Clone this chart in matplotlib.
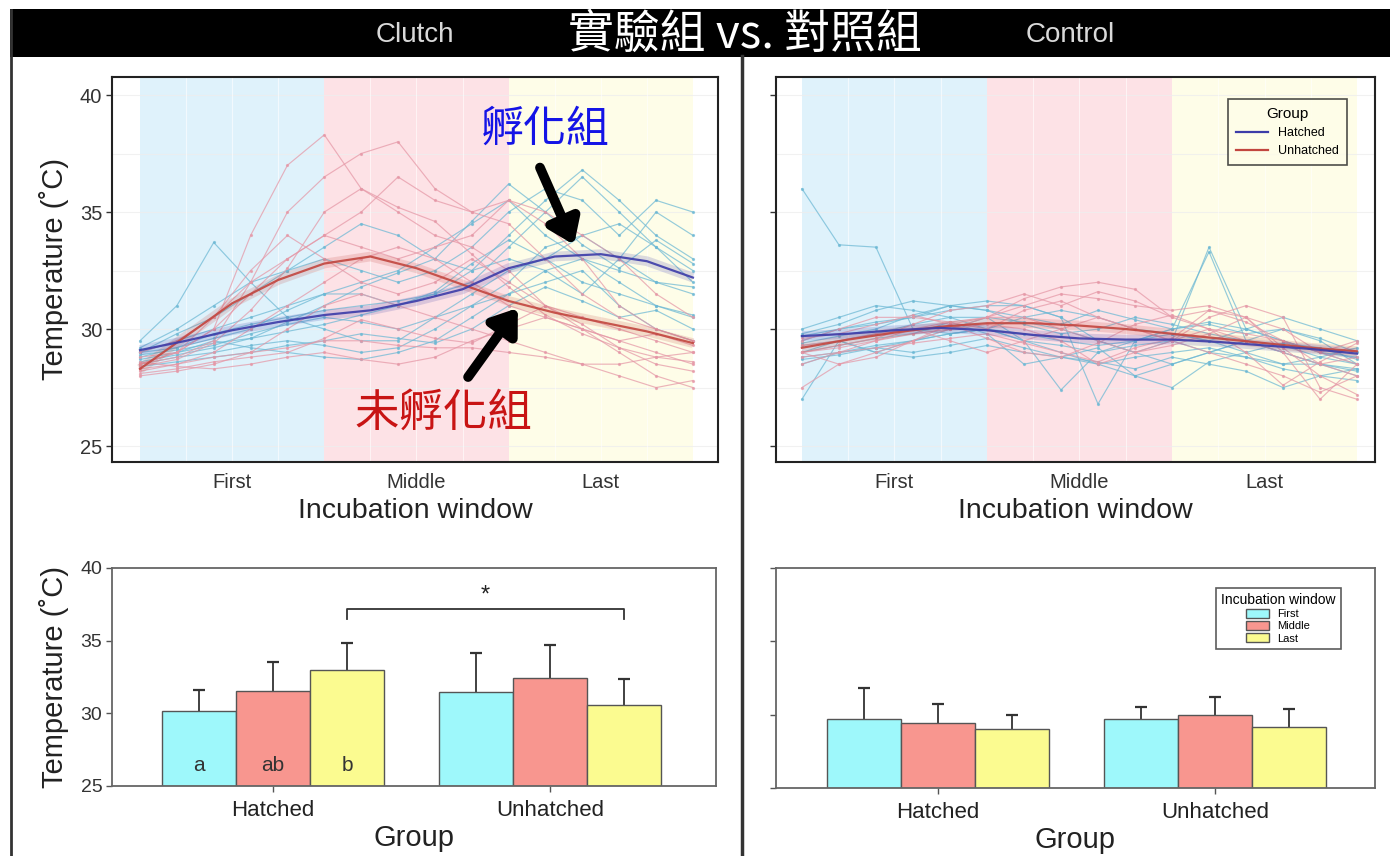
import numpy as np
import matplotlib
matplotlib.use("Agg")
import matplotlib.pyplot as plt
from matplotlib.patches import Rectangle, Patch
from matplotlib.lines import Line2D

plt.rcParams['font.family'] = ['Liberation Sans', 'DejaVu Sans']

# ---------------- data ----------------
windows = ["First", "Middle", "Last"]
groups = ["Hatched", "Unhatched"]

# x grid of individual temperature traces (window units: 0-1 First, 1-2 Middle, 2-3 Last)
trace_x = np.linspace(0, 3, 16)
smooth_x = np.linspace(0, 3, 13)

clutch_hatched = [
    [29.5, 31.0, 33.7, 32.0, 30.5, 30.8, 31.0, 31.2, 31.5, 32.0, 33.5, 35.0, 36.5, 35.0, 33.5, 32.5],
    [29.0, 29.5, 30.0, 30.5, 31.0, 31.5, 31.5, 31.0, 31.5, 32.5, 34.0, 35.5, 36.8, 35.5, 34.0, 33.0],
    [28.8, 29.2, 29.8, 30.2, 30.5, 30.0, 29.5, 29.5, 30.5, 31.5, 32.5, 33.0, 34.0, 34.5, 33.5, 32.0],
    [28.5, 28.8, 29.0, 29.3, 29.5, 29.3, 29.0, 29.2, 30.0, 31.0, 32.0, 33.5, 34.0, 33.0, 32.0, 31.5],
    [29.2, 30.0, 31.0, 32.0, 32.5, 33.0, 32.5, 32.0, 32.5, 33.5, 35.0, 36.0, 35.5, 34.0, 35.5, 35.0],
    [28.5, 29.0, 29.5, 29.2, 29.0, 28.8, 28.7, 29.0, 29.5, 30.5, 31.5, 32.0, 32.5, 31.0, 30.0, 29.5],
    [29.0, 29.8, 30.5, 31.5, 32.5, 33.5, 34.5, 34.0, 33.0, 32.5, 33.0, 32.5, 31.5, 33.0, 35.0, 34.0],
    [28.7, 29.0, 29.3, 29.8, 30.2, 30.5, 30.3, 30.0, 30.5, 31.0, 31.5, 32.5, 33.0, 32.0, 31.0, 30.5],
    [29.0, 29.2, 29.6, 30.0, 30.8, 31.5, 32.0, 32.5, 33.5, 34.5, 35.5, 34.0, 33.0, 32.5, 32.0, 31.8],
    [28.4, 28.6, 28.8, 29.0, 29.3, 29.5, 29.8, 29.6, 29.4, 30.0, 31.0, 31.8, 31.2, 30.5, 30.8, 30.0],
    [28.9, 29.1, 29.4, 29.6, 29.9, 30.2, 30.6, 31.0, 31.6, 32.8, 33.8, 33.0, 32.0, 31.5, 31.0, 30.6],
    [28.6, 28.9, 29.2, 29.6, 30.3, 31.0, 31.8, 32.4, 33.0, 34.6, 36.2, 35.0, 33.6, 32.6, 33.8, 32.8],
]
clutch_unhatched = [
    [28.5, 29.0, 30.0, 34.0, 37.0, 38.3, 36.0, 35.0, 34.0, 33.5, 32.5, 31.0, 30.5, 30.0, 29.5, 29.0],
    [28.5, 28.8, 29.5, 32.0, 35.0, 36.5, 37.5, 38.0, 36.0, 35.0, 34.5, 33.0, 31.5, 30.5, 30.0, 29.5],
    [28.8, 29.0, 30.0, 31.5, 33.0, 34.0, 35.0, 36.5, 35.5, 35.0, 35.5, 34.5, 33.0, 31.0, 30.0, 29.5],
    [29.0, 29.5, 30.5, 32.0, 33.0, 34.0, 33.5, 33.0, 33.5, 34.0, 35.5, 35.0, 34.0, 33.0, 31.5, 30.5],
    [28.0, 28.2, 28.5, 29.0, 30.0, 31.0, 31.5, 31.0, 30.5, 30.0, 29.5, 29.0, 28.5, 28.5, 28.8, 29.0],
    [28.3, 28.5, 28.8, 29.0, 29.2, 29.5, 29.5, 29.3, 29.2, 29.2, 29.0, 28.8, 28.5, 28.0, 27.5, 27.8],
    [28.5, 29.0, 30.5, 32.5, 34.0, 33.0, 32.0, 31.5, 32.0, 33.0, 32.0, 31.0, 30.0, 29.5, 29.0, 28.5],
    [28.2, 28.5, 29.0, 30.0, 31.0, 32.0, 33.0, 33.5, 33.0, 32.0, 31.0, 30.5, 30.0, 29.0, 28.0, 27.5],
    [28.6, 28.4, 28.3, 28.5, 28.8, 29.0, 28.7, 28.5, 28.8, 29.5, 30.0, 30.5, 30.0, 29.5, 29.8, 29.3],
    [28.4, 28.7, 29.4, 30.8, 32.6, 35.0, 36.0, 35.2, 34.6, 33.2, 31.8, 30.6, 29.8, 29.2, 28.8, 28.6],
    [28.1, 28.3, 28.6, 28.8, 29.0, 29.6, 30.4, 30.0, 29.6, 29.4, 30.2, 31.0, 30.2, 29.2, 28.5, 28.2],
]
control_hatched = [
    [36.0, 33.6, 33.5, 30.0, 29.8, 30.0, 29.5, 29.3, 29.0, 29.3, 29.5, 29.0, 28.8, 28.5, 28.5, 28.3],
    [29.5, 30.0, 30.3, 30.5, 30.8, 31.0, 31.0, 30.5, 29.5, 29.0, 29.5, 33.5, 30.0, 29.5, 29.0, 28.8],
    [29.0, 29.5, 29.8, 30.2, 30.5, 30.5, 30.3, 30.0, 29.5, 29.0, 28.5, 29.0, 29.5, 30.0, 29.5, 28.5],
    [30.0, 30.5, 31.0, 30.8, 30.5, 30.0, 29.5, 29.0, 28.5, 28.0, 28.5, 29.0, 29.5, 29.0, 28.5, 28.0],
    [28.5, 29.0, 29.3, 29.5, 29.8, 30.0, 30.5, 30.8, 30.5, 30.0, 29.8, 29.5, 30.0, 30.5, 30.0, 29.5],
    [29.3, 29.5, 29.0, 29.5, 30.0, 30.5, 29.5, 27.4, 29.0, 29.5, 29.8, 29.5, 29.0, 28.5, 28.8, 29.2],
    [29.7, 30.0, 30.2, 30.5, 31.0, 31.2, 31.0, 30.5, 26.8, 29.5, 30.0, 33.3, 29.5, 29.0, 28.5, 28.2],
    [28.8, 29.0, 29.2, 29.5, 29.8, 30.0, 29.8, 29.5, 29.3, 29.5, 30.0, 30.3, 30.0, 29.5, 29.0, 28.5],
    [27.0, 29.5, 29.0, 28.8, 29.0, 29.3, 29.0, 28.8, 28.5, 28.8, 29.0, 29.2, 28.8, 28.3, 28.0, 27.8],
    [29.8, 30.2, 30.8, 31.2, 31.0, 30.8, 30.2, 29.8, 30.0, 30.5, 30.2, 29.8, 29.5, 29.3, 28.8, 28.5],
    [28.7, 28.9, 29.2, 29.0, 29.3, 29.6, 29.2, 28.8, 28.6, 28.3, 28.8, 28.5, 28.2, 27.5, 28.0, 28.3],
    [29.4, 29.7, 30.0, 30.6, 31.0, 30.8, 30.5, 30.2, 30.8, 30.4, 30.0, 30.2, 29.8, 30.0, 29.6, 29.0],
    [29.0, 29.3, 29.6, 29.8, 30.3, 29.8, 28.5, 28.8, 29.2, 28.0, 27.5, 28.6, 29.0, 29.4, 29.2, 28.7],
]
control_unhatched = [
    [29.0, 29.2, 29.5, 29.8, 30.0, 30.5, 31.3, 31.8, 32.0, 31.7, 30.5, 30.0, 29.5, 29.0, 28.5, 28.8],
    [29.3, 29.5, 29.8, 30.0, 30.3, 30.5, 31.0, 31.5, 31.3, 31.0, 30.8, 31.0, 30.5, 30.0, 29.0, 28.5],
    [28.5, 29.0, 29.5, 30.0, 29.5, 29.0, 29.5, 30.0, 30.5, 30.0, 29.5, 30.5, 31.0, 30.5, 27.5, 27.0],
    [29.0, 28.5, 28.8, 29.5, 30.2, 30.5, 30.5, 30.0, 29.5, 29.0, 29.3, 29.8, 30.5, 29.0, 27.0, 28.5],
    [29.5, 30.0, 30.5, 30.5, 30.3, 30.0, 30.8, 31.2, 30.5, 30.0, 29.5, 29.0, 28.5, 28.0, 27.3, 28.0],
    [27.5, 28.5, 29.0, 29.5, 30.0, 30.2, 30.0, 29.5, 28.5, 29.0, 29.5, 30.0, 29.8, 29.5, 29.0, 29.5],
    [29.0, 29.3, 29.6, 30.2, 30.8, 31.0, 31.5, 31.0, 31.6, 31.2, 30.5, 30.8, 30.3, 29.5, 28.5, 28.0],
    [28.8, 29.0, 29.2, 29.4, 29.6, 29.8, 29.4, 29.0, 28.6, 29.2, 29.6, 30.8, 30.5, 29.2, 28.0, 27.2],
    [29.6, 29.8, 30.2, 30.6, 30.2, 29.6, 29.0, 28.8, 29.4, 30.2, 30.6, 30.0, 29.0, 27.6, 28.6, 29.4],
]

clutch_smooth_hatched = [29.1, 29.5, 29.95, 30.3, 30.6, 30.8, 31.2, 31.7, 32.6, 33.1, 33.2, 32.9, 32.2]
clutch_smooth_unhatched = [28.3, 29.7, 31.1, 32.1, 32.8, 33.1, 32.6, 31.9, 31.2, 30.7, 30.3, 29.9, 29.4]
control_smooth_hatched = [29.7, 29.8, 29.95, 30.05, 29.95, 29.75, 29.6, 29.55, 29.55, 29.45, 29.3, 29.15, 28.95]
control_smooth_unhatched = [29.2, 29.55, 29.85, 30.1, 30.25, 30.25, 30.15, 30.0, 29.8, 29.6, 29.4, 29.2, 29.05]

# bar means and upper error bar ends  [First, Middle, Last]
clutch_bar_mean = {"Hatched": [30.15, 31.55, 32.95], "Unhatched": [31.45, 32.45, 30.55]}
clutch_bar_top = {"Hatched": [31.6, 33.5, 34.85], "Unhatched": [34.15, 34.7, 32.35]}
control_bar_mean = {"Hatched": [29.7, 29.45, 29.05], "Unhatched": [29.7, 30.0, 29.15]}
control_bar_top = {"Hatched": [31.8, 30.7, 30.0], "Unhatched": [30.5, 31.2, 30.4]}
letters = ["a", "ab", "b"]

# ---------------- style ----------------
W, H = 1390, 856
fig = plt.figure(figsize=(W / 100, H / 100), dpi=100)

def fbox(l, t, r, b):
    return [l / W, 1 - b / H, (r - l) / W, (b - t) / H]

shade_cols = ["#dff2fb", "#fde2e6", "#fefde8"]
trace_col = {"Hatched": "#6cb8d4", "Unhatched": "#e597a6"}
smooth_col = {"Hatched": "#3c3ca8", "Unhatched": "#c2463f"}
bar_cols = ["#9ef8fb", "#f8968f", "#fbfb90"]
cjk = ["Noto Sans CJK TC", "DejaVu Sans"]

# ---------------- header / frame ----------------
fig.patches.append(Rectangle((10 / W, 1 - 57 / H), 1 - 10 / W, 48 / H, transform=fig.transFigure,
                             facecolor="black", edgecolor="none", zorder=0))
fig.add_artist(Line2D([10.5 / W, 10.5 / W], [0, 1 - 10 / H], color="#333333", lw=2))
fig.add_artist(Line2D([742 / W, 742 / W], [0, 1 - 56 / H], color="#333333", lw=2.5))
fig.text(415 / W, 1 - 35 / H, "Clutch", color="#d9d9d9", fontsize=20, ha="center", va="center")
fig.text(1070 / W, 1 - 35 / H, "Control", color="#d9d9d9", fontsize=20, ha="center", va="center")
fig.text(745 / W, 1 - 35 / H, "實驗組 vs. 對照組", color="white", fontsize=33, ha="center", va="center",
         family=cjk, fontweight="light")


def line_panel(ax, hatched, unhatched, sm_h, sm_u, xlim, show_labels):
    ax.set_xlim(*xlim)
    ax.set_ylim(24.32, 40.77)
    for i, c in enumerate(shade_cols):
        ax.axvspan(i, i + 1, color=c, zorder=0, lw=0)
    for y in [25, 27.5, 30, 32.5, 35, 37.5, 40]:
        ax.axhline(y, color="#eeeeee", lw=0.8, alpha=0.8, zorder=0.5)
    for x in [0.25, 0.5, 0.75, 1.25, 1.5, 1.75, 2.25, 2.5, 2.75]:
        ax.axvline(x, color="#ffffff", lw=0.8, alpha=0.6, zorder=0.5)
    for tr in hatched:
        ax.plot(trace_x, tr, color=trace_col["Hatched"], lw=0.85, alpha=0.72, marker="o", ms=1.3, zorder=2)
    for tr in unhatched:
        ax.plot(trace_x, tr, color=trace_col["Unhatched"], lw=0.85, alpha=0.72, marker="o", ms=1.3, zorder=2)
    for sm, g in [(sm_u, "Unhatched"), (sm_h, "Hatched")]:
        ax.plot(smooth_x, sm, color=smooth_col[g], lw=7, alpha=0.18, solid_capstyle="butt", zorder=3)
        ax.plot(smooth_x, sm, color=smooth_col[g], lw=1.6, alpha=0.9, zorder=4)
    ax.set_xticks([0.5, 1.5, 2.5])
    ax.set_xticklabels(windows, fontsize=14.5, color="#333333")
    ax.tick_params(axis="x", length=0, pad=8)
    ax.set_yticks([25, 30, 35, 40])
    ax.tick_params(axis="y", length=4, width=1, color="#333333", labelsize=14.5, labelcolor="#333333", pad=3)
    if not show_labels:
        ax.set_yticklabels([])
    for s in ax.spines.values():
        s.set_color("#222222")
        s.set_linewidth(1.5)
    ax.set_xlabel("Incubation window", fontsize=20.5, color="#222222", labelpad=4)


ax1 = fig.add_axes(fbox(112, 77, 718, 462))
line_panel(ax1, clutch_hatched, clutch_unhatched, clutch_smooth_hatched, clutch_smooth_unhatched,
           (-0.152, 3.136), True)
ax1.set_ylabel("Temperature (˚C)", fontsize=21, color="#222222", labelpad=8)

ax2 = fig.add_axes(fbox(776, 77, 1375, 462))
line_panel(ax2, control_hatched, control_unhatched, control_smooth_hatched, control_smooth_unhatched,
           (-0.14, 3.097), False)
leg = ax2.legend(handles=[Line2D([], [], color=smooth_col["Hatched"], lw=1.6),
                          Line2D([], [], color=smooth_col["Unhatched"], lw=1.6)],
                 labels=groups, title="Group", loc="upper right", bbox_to_anchor=(0.963, 0.958),
                 fontsize=9, title_fontsize=11, frameon=True, fancybox=False, handlelength=2.6,
                 borderpad=0.6, labelspacing=0.5)
leg.get_frame().set_edgecolor("#222222")
leg.get_frame().set_linewidth(1.2)
leg.get_frame().set_facecolor("#fefde8")

# annotations on clutch panel
ax1.text(2.2, 38.5, "孵化組", color="#1414e6", fontsize=31, ha="center", va="center", family=cjk,
         fontweight="light", zorder=6)
ax1.text(1.644, 26.41, "未孵化組", color="#c81414", fontsize=32, ha="center", va="center", family=cjk,
         fontweight="light", zorder=6)
arrow_kw = dict(arrowstyle="-|>,head_width=1.0,head_length=1.4", color="black", lw=7, shrinkA=0, shrinkB=0)
ax1.annotate("", xy=(2.355, 33.6), xytext=(2.17, 36.9), arrowprops=arrow_kw, zorder=6)
ax1.annotate("", xy=(2.05, 30.9), xytext=(1.78, 27.95), arrowprops=arrow_kw, zorder=6)


def bar_panel(ax, means, tops, xlim, show_labels):
    bw = 0.267
    for gi, g in enumerate(groups):
        for k in range(3):
            x = gi + 1 + (k - 1) * bw
            m = means[g][k]
            ax.bar(x, m - 25, bottom=25, width=bw, color=bar_cols[k], edgecolor="#555555", lw=1, zorder=2)
            ax.vlines(x, m, tops[g][k], color="#333333", lw=1.3, zorder=1)
            ax.hlines(tops[g][k], x - 0.022, x + 0.022, color="#333333", lw=1.6, zorder=1)
    ax.set_xlim(*xlim)
    ax.set_ylim(25, 40)
    ax.set_xticks([1, 2])
    ax.set_xticklabels(groups, fontsize=16, color="#222222")
    ax.tick_params(axis="x", length=4, width=1, color="#555555", pad=6)
    ax.set_yticks([25, 30, 35, 40])
    ax.tick_params(axis="y", length=4, width=1, color="#555555", labelsize=14, labelcolor="#333333", pad=3)
    if not show_labels:
        ax.set_yticklabels([])
    for s in ax.spines.values():
        s.set_color("#666666")
        s.set_linewidth(1.3)
    ax.set_xlabel("Group", fontsize=21, color="#222222", labelpad=2)


ax3 = fig.add_axes(fbox(112, 568, 716, 786))
bar_panel(ax3, clutch_bar_mean, clutch_bar_top, (0.419, 2.599), True)
ax3.set_ylabel("Temperature (˚C)", fontsize=21, color="#222222", labelpad=8)
for k, lab in enumerate(letters):
    ax3.text(1 + (k - 1) * 0.267, 26.4, lab, fontsize=15, color="#333333", ha="center", va="center", zorder=3)
bx0, bx1, by = 1 + 0.267, 2 + 0.267, 37.17
ax3.plot([bx0, bx0, bx1, bx1], [36.5, by, by, 36.5], color="#333333", lw=1.3)
ax3.text((bx0 + bx1) / 2, 38.1, "*", fontsize=17, ha="center", va="center", color="#222222")

ax4 = fig.add_axes(fbox(776, 568, 1375, 788))
bar_panel(ax4, control_bar_mean, control_bar_top, (0.415, 2.578), False)
leg2 = ax4.legend(handles=[Patch(facecolor=c, edgecolor="#555555") for c in bar_cols], labels=windows,
                  title="Incubation window", loc="upper right", bbox_to_anchor=(0.953, 0.936),
                  fontsize=8, title_fontsize=10, frameon=True, fancybox=False, handlelength=2.0,
                  handleheight=0.9, labelspacing=0.15, borderpad=0.5)
leg2.get_frame().set_edgecolor("#333333")
leg2.get_frame().set_linewidth(1.2)

fig.savefig("out.png", dpi=100)
